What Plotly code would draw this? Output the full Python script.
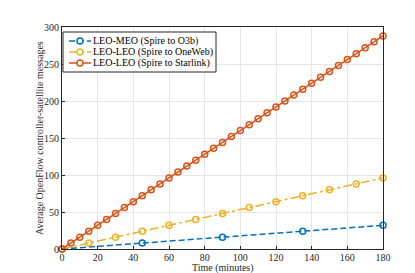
import plotly.graph_objects as go

time_meo = [0, 45, 90, 135, 180]
msgs_meo = [0, 8, 16, 24, 32]

time_oneweb = [0, 15, 30, 45, 60, 75, 90, 105, 120, 135, 150, 165, 180]
msgs_oneweb = [0, 8, 16, 24, 32, 40, 48, 56, 64, 72, 80, 88, 96]

time_starlink = [0, 5, 10, 15, 20, 25, 30, 35, 40, 45, 50, 55, 60, 65, 70, 75, 80, 85, 90,
                 95, 100, 105, 110, 115, 120, 125, 130, 135, 140, 145, 150, 155, 160, 165,
                 170, 175, 180]
msgs_starlink = [0, 8, 16, 24, 32, 40, 48, 56, 64, 72, 80, 88, 96, 104, 112, 120, 128, 136, 144,
                 152, 160, 168, 176, 184, 192, 200, 208, 216, 224, 232, 240, 248, 256, 264,
                 272, 280, 288]

x_ticks = [0, 20, 40, 60, 80, 100, 120, 140, 160, 180]
y_ticks = [0, 50, 100, 150, 200, 250, 300]

names = ["LEO-MEO (Spire to O3b)", "LEO-LEO (Spire to OneWeb)", "LEO-LEO (Spire to Starlink)"]
colors = ["#0072BD", "#EDB120", "#D95319"]
dashes = ["6px,3px", "dashdot", "solid"]

SERIF = "Liberation Serif, Times New Roman, serif"
TXT = "#262626"

fig = go.Figure()
for t, m, n, c, d in zip([time_meo, time_oneweb, time_starlink],
                         [msgs_meo, msgs_oneweb, msgs_starlink], names, colors, dashes):
    fig.add_trace(go.Scatter(
        x=t, y=m, name=n, mode="lines+markers",
        line=dict(color=c, width=1.5, dash=d),
        marker=dict(symbol="circle-open", size=6, color=c, line=dict(width=1.5, color=c)),
        cliponaxis=False, showlegend=False,
    ))

axis_common = dict(
    showline=True, mirror=True, linecolor=TXT, linewidth=1,
    ticks="inside", ticklen=3, tickcolor=TXT,
    showgrid=True, gridcolor="#E6E6E6", gridwidth=1, zeroline=False,
    automargin=False,
    tickfont=dict(family=SERIF, size=10, color=TXT),
)

# Plot-area geometry in window pixels (page body has an 8px margin)
PX_L, PX_R, PX_T, PX_B = 62, 383, 27, 249
def px_x(p):
    return (p - PX_L) / (PX_R - PX_L)
def px_y(p):
    return (PX_B - p) / (PX_B - PX_T)

# Compact MATLAB-style legend box
shapes = [dict(type="rect", xref="paper", yref="paper",
               x0=px_x(63), x1=px_x(216), y0=px_y(72), y1=px_y(32),
               fillcolor="white", line=dict(color=TXT, width=1), layer="above")]
annotations = []
row_y = [41, 52, 63]
for n, c, d, ry in zip(names, colors, dashes, row_y):
    shapes.append(dict(type="line", xref="paper", yref="paper",
                       x0=px_x(69), x1=px_x(91), y0=px_y(ry), y1=px_y(ry),
                       line=dict(color=c, width=1.5, dash=d), layer="above"))
    shapes.append(dict(type="circle", xref="paper", yref="paper",
                       xsizemode="pixel", ysizemode="pixel",
                       xanchor=px_x(80), yanchor=px_y(ry),
                       x0=-3, x1=3, y0=-3, y1=3,
                       fillcolor="white", line=dict(color=c, width=1.5), layer="above"))
    annotations.append(dict(text=n, x=px_x(92), y=px_y(ry), xref="paper", yref="paper",
                            xanchor="left", yanchor="middle", showarrow=False,
                            borderpad=0, font=dict(family=SERIF, size=10, color="#000000")))

annotations += [
    dict(text="Time (minutes)", x=0.5, y=0, xref="paper", yref="paper",
         xanchor="center", yanchor="middle", yshift=-18.5, showarrow=False,
         borderpad=0, font=dict(family=SERIF, size=10, color=TXT)),
    dict(text="Average OpenFlow controller-satellite messages", x=0, y=0.5,
         xref="paper", yref="paper", xanchor="center", yanchor="middle",
         xshift=-23, textangle=-90, showarrow=False,
         font=dict(family=SERIF, size=10, color=TXT)),
]

fig.update_layout(
    width=407, height=265,
    margin=dict(l=54, r=32, t=19, b=24),
    paper_bgcolor="white", plot_bgcolor="white",
    font=dict(family=SERIF, size=10, color=TXT),
    xaxis=dict(range=[0, 180], tickvals=x_ticks, ticklabelstandoff=-1, **axis_common),
    yaxis=dict(range=[0, 300], tickvals=y_ticks, **axis_common),
    showlegend=False,
    shapes=shapes,
    annotations=annotations,
)

fig.write_html("out.html")
